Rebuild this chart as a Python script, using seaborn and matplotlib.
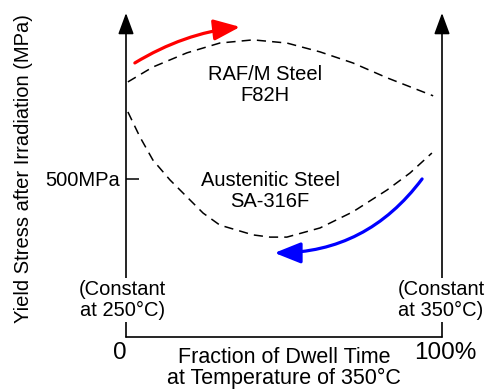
import matplotlib
matplotlib.use("Agg")
import matplotlib.pyplot as plt
import matplotlib.transforms as mtransforms
import seaborn as sns

# -----------------------------
# Data
# -----------------------------
# x = fraction of dwell time at 350 C (0..1), y = yield stress (MPa, schematic)
raf_x = [0.006, 0.085, 0.193, 0.297, 0.402, 0.509, 0.614, 0.718, 0.826, 0.972]
raf_y = [807, 854, 899, 930, 940, 930, 902, 867, 820, 763]

aus_x = [0.006, 0.044, 0.085, 0.139, 0.193, 0.244, 0.297, 0.402, 0.456, 0.509,
         0.614, 0.718, 0.826, 0.899, 0.968]
aus_y = [712, 633, 560, 497, 443, 392, 354, 323, 316, 316, 345, 396, 465, 519, 582]

tick_vals = [500]
tick_labels = ["500MPa"]
x_ticks = [0, 1]
x_tick_labels = ["0", "100%"]

red_start, red_end = (0.028, 867), (0.361, 981)
blue_start, blue_end = (0.937, 500), (0.47, 266)

y_top = 1025
font = ["Liberation Sans", "DejaVu Sans"]

# -----------------------------
# Figure
# -----------------------------
sns.set_theme(style="white")
plt.rcParams["font.family"] = font
plt.rcParams["text.color"] = "black"
plt.rcParams["axes.labelcolor"] = "black"

W, H = 491, 389
fig = plt.figure(figsize=(W / 100, H / 100), dpi=100)
ax = fig.add_axes([126 / W, (H - 337) / H, (442 - 126) / W, (337 - 13) / H])
ax.set_xlim(0, 1)
ax.set_ylim(0, y_top)
for s in ax.spines.values():
    s.set_visible(False)

# axes drawn as arrows
arrow_kw = dict(arrowstyle="-|>,head_length=0.65,head_width=0.24", lw=1.2,
                color="black", mutation_scale=20, shrinkA=0, shrinkB=0)
ax.annotate("", xy=(0, y_top), xytext=(0, 0), arrowprops=arrow_kw, annotation_clip=False)
ax.annotate("", xy=(1, y_top), xytext=(1, 0), arrowprops=arrow_kw, annotation_clip=False)
ax.plot([0, 1], [0, 0], color="black", lw=1.2, clip_on=False)

# dashed curves
sns.lineplot(x=raf_x, y=raf_y, ax=ax, color="black", lw=1.1)
ax.lines[-1].set_dashes([6, 4])
sns.lineplot(x=aus_x, y=aus_y, ax=ax, color="black", lw=1.1)
ax.lines[-1].set_dashes([6, 4])

# coloured trend arrows
ax.annotate("", xy=red_end, xytext=red_start,
            arrowprops=dict(arrowstyle="-|>,head_length=0.8,head_width=0.32",
                            color="#ff0000", lw=2.3, mutation_scale=20,
                            connectionstyle="arc3,rad=-0.11", shrinkA=0, shrinkB=0))
ax.annotate("", xy=blue_end, xytext=blue_start,
            arrowprops=dict(arrowstyle="-|>,head_length=0.8,head_width=0.32",
                            color="#0000ff", lw=2.3, mutation_scale=20,
                            connectionstyle="arc3,rad=-0.25", shrinkA=0, shrinkB=0))

# ticks
ax.set_yticks(tick_vals, tick_labels)
ax.set_xticks(x_ticks, x_tick_labels)
ax.tick_params(axis="y", direction="in", length=9, width=1.1, pad=4,
               labelsize=14.5, colors="black", left=True)
ax.tick_params(axis="x", length=0, pad=1, labelsize=17.5, colors="black")
for lab, dx in zip(ax.get_xticklabels(), [-6, 3]):
    lab.set_transform(lab.get_transform() +
                      mtransforms.ScaledTranslation(dx / 100, -4 / 100, fig.dpi_scale_trans))

# labels
ax.set_ylabel("Yield Stress after Irradiation (MPa)", fontsize=14.5)
ax.yaxis.set_label_coords(-0.294, 0.519)
ax.text(0.5, -0.03, "Fraction of Dwell Time\nat Temperature of 350°C",
        transform=ax.transAxes, ha="center", va="top", fontsize=15.5,
        linespacing=1.0)

ax.text(0.44, 797, "RAF/M Steel\nF82H", ha="center", va="center", fontsize=14.5,
        linespacing=1.1)
ax.text(0.456, 462, "Austenitic Steel\nSA-316F", ha="center", va="center",
        fontsize=14.5, linespacing=1.1)

box = dict(fc="white", ec="none", pad=1)
ax.text(-0.01, 117, "(Constant\nat 250°C)", ha="center", va="center",
        fontsize=14.5, linespacing=1.15, bbox=box, zorder=5, clip_on=False)
ax.text(0.997, 117, "(Constant\nat 350°C)", ha="center", va="center",
        fontsize=14.5, linespacing=1.15, bbox=box, zorder=5, clip_on=False)

plt.savefig("out.png", dpi=100)
plt.close()
